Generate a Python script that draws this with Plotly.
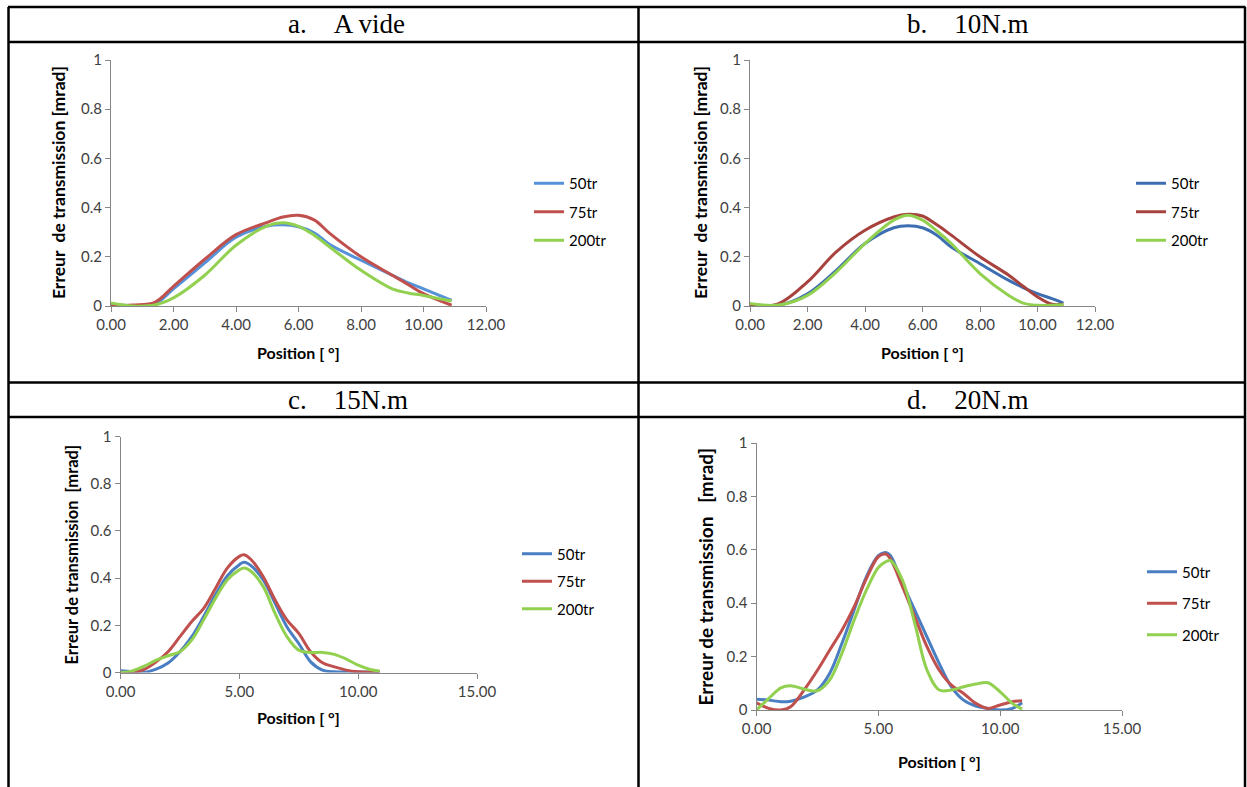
import plotly.graph_objects as go

W, H = 1247, 787

# ---------------- data ----------------
series_names = ["50tr", "75tr", "200tr"]
panel_titles = ["a.\u00a0\u00a0\u00a0\u00a0A vide", "b.\u00a0\u00a0\u00a0\u00a010N.m",
                "c.\u00a0\u00a0\u00a0\u00a015N.m", "d.\u00a0\u00a0\u00a0\u00a020N.m"]
x_title = "Position [ °]"
y_titles = ["Erreur\u00a0\u00a0de transmission [mrad]", "Erreur\u00a0\u00a0de transmission [mrad]",
            "Erreur de transmission\u00a0\u00a0[mrad]", "Erreur de transmission\u00a0\u00a0\u00a0[mrad]"]

a_x = [0, 0.7, 1.4, 2, 3, 4, 5, 5.5, 6, 6.5, 7, 8, 9, 9.5, 10, 10.9]
a_50 = [0.005, 0.002, 0.008, 0.07, 0.175, 0.28, 0.325, 0.33, 0.322, 0.298, 0.25, 0.186, 0.125, 0.095, 0.07, 0.023]
a_75 = [0.0, 0.004, 0.015, 0.08, 0.19, 0.29, 0.34, 0.362, 0.369, 0.35, 0.295, 0.2, 0.125, 0.088, 0.05, 0.003]
a_200 = [0.012, 0.0, 0.004, 0.033, 0.125, 0.247, 0.326, 0.338, 0.324, 0.288, 0.24, 0.145, 0.07, 0.053, 0.043, 0.02]

b_x = [0, 1, 2, 3, 4, 5, 5.5, 6, 6.5, 7, 8, 9, 9.5, 10, 10.5, 10.9]
b_50 = [0.005, 0.003, 0.05, 0.145, 0.254, 0.318, 0.326, 0.318, 0.288, 0.24, 0.172, 0.104, 0.075, 0.05, 0.03, 0.012]
b_75 = [0.0, 0.01, 0.098, 0.22, 0.308, 0.362, 0.373, 0.366, 0.33, 0.288, 0.2, 0.125, 0.08, 0.037, 0.007, 0.007]
b_200 = [0.01, 0.004, 0.043, 0.138, 0.254, 0.349, 0.369, 0.349, 0.305, 0.254, 0.132, 0.043, 0.012, 0.003, 0.003, 0.005]

c_x = [0, 0.5, 1, 1.5, 2, 2.5, 3, 3.5, 4, 4.5, 5, 5.2, 5.5, 6, 6.5, 7, 7.5, 8, 8.5, 9, 9.5, 10, 10.5, 10.9]
c_50 = [0.007, 0.003, 0.0, 0.014, 0.04, 0.088, 0.152, 0.237, 0.33, 0.41, 0.457, 0.467, 0.452, 0.393, 0.294,
        0.194, 0.123, 0.045, 0.01, 0.003, 0.002, 0.002, 0.002, 0.003]
c_75 = [0.0, 0.0, 0.013, 0.045, 0.088, 0.152, 0.216, 0.272, 0.357, 0.443, 0.492, 0.499, 0.478, 0.407, 0.308,
        0.223, 0.166, 0.088, 0.041, 0.024, 0.01, 0.003, 0.001, 0.0]
c_200 = [0.0, 0.007, 0.027, 0.052, 0.071, 0.088, 0.138, 0.223, 0.315, 0.393, 0.435, 0.443, 0.428, 0.365, 0.251,
         0.152, 0.095, 0.085, 0.085, 0.077, 0.057, 0.031, 0.013, 0.006]

d_x = [0, 0.5, 1, 1.4, 2, 2.5, 3, 3.5, 4, 4.5, 5, 5.3, 5.5, 6, 6.5, 7, 7.5, 8, 8.5, 9, 9.5, 10, 10.5, 10.9]
d_50 = [0.04, 0.037, 0.031, 0.033, 0.05, 0.075, 0.137, 0.248, 0.373, 0.497, 0.578, 0.59, 0.578, 0.472, 0.373,
        0.273, 0.174, 0.087, 0.037, 0.015, 0.006, 0.0, 0.006, 0.027]
d_75 = [0.027, 0.006, 0.0, 0.012, 0.081, 0.149, 0.224, 0.298, 0.385, 0.49, 0.574, 0.584, 0.565, 0.46, 0.348,
        0.236, 0.149, 0.093, 0.062, 0.025, 0.006, 0.019, 0.031, 0.035]
d_200 = [0.0, 0.043, 0.083, 0.091, 0.077, 0.072, 0.112, 0.211, 0.335, 0.447, 0.534, 0.555, 0.559, 0.484, 0.323,
         0.149, 0.075, 0.075, 0.087, 0.097, 0.102, 0.068, 0.025, 0.003]

x_ranges = [[0, 12], [0, 12], [0, 15], [0, 15]]
x_dticks = [2, 2, 5, 5]

# ---------------- styling / layout ----------------
colors = [
    ["#5592DA", "#C0504D", "#92D050"],
    ["#3D6EB2", "#A8423E", "#92D050"],
    ["#4A7EC2", "#C0504D", "#92D050"],
    ["#4A7EC2", "#C0504D", "#92D050"],
]
# plot areas in pixels: (left, right, top, bottom)
areas = [(111, 486, 60, 306), (750, 1095, 60, 306), (120.5, 477, 436.5, 672.5), (756.5, 1122, 443, 710)]
legend_pos = [(529, 212), (1131, 212), (517, 581.5), (1142, 603.5)]
legend_gap = [6, 6, 5, 9]
title_pos = [(346, 24), (968, 24), (348, 400), (968, 400)]
ytitle_x = [59, 701, 71, 705]
ytitle_size = [17.5, 17.5, 16.5, 19]
xtitle_y = [352, 352, 717, 761]

panels = [(a_x, [a_50, a_75, a_200]), (b_x, [b_50, b_75, b_200]),
          (c_x, [c_50, c_75, c_200]), (d_x, [d_50, d_75, d_200])]

fig = go.Figure()
SANS = "Lato, 'Open Sans', sans-serif"
TICKFONT = dict(family=SANS, size=15, color="#404040")

def px_x(p):
    return p / W

def px_y(p):
    return 1 - p / H

annotations = []
layout_upd = {}
for i, (xs, ys_list) in enumerate(panels):
    n = "" if i == 0 else str(i + 1)
    leg = "legend" if i == 0 else f"legend{i + 1}"
    for j, ys in enumerate(ys_list):
        fig.add_trace(go.Scatter(
            x=xs, y=ys, mode="lines", name=series_names[j],
            line=dict(color=colors[i][j], width=3, shape="spline", smoothing=1.0),
            xaxis="x" + n, yaxis="y" + n, legend=leg, legendgroup=f"p{i}s{j}",
            hoverinfo="skip"))
    l, r, t, b = areas[i]
    layout_upd["xaxis" + n] = dict(
        domain=[px_x(l), px_x(r)], range=x_ranges[i], anchor="y" + n, automargin=False,
        dtick=x_dticks[i], tick0=0, tickformat=".2f", showgrid=False, zeroline=False,
        showline=True, linecolor="#868686", linewidth=1, ticks="outside", ticklen=5,
        tickcolor="#868686", tickfont=TICKFONT, fixedrange=True)
    layout_upd["yaxis" + n] = dict(
        domain=[px_y(b), px_y(t)], range=[0, 1], anchor="x" + n, automargin=False,
        dtick=0.2, tick0=0, showgrid=False, zeroline=False,
        showline=True, linecolor="#868686", linewidth=1, ticks="outside", ticklen=5,
        tickcolor="#868686", tickfont=TICKFONT, fixedrange=True)
    lx, ly = legend_pos[i]
    layout_upd[leg] = dict(
        x=px_x(lx), y=px_y(ly), xanchor="left", yanchor="middle",
        bgcolor="rgba(0,0,0,0)", borderwidth=0, tracegroupgap=legend_gap[i],
        font=dict(family=SANS, size=15, color="#000000"),
        itemwidth=30)
    tx, ty = title_pos[i]
    annotations.append(dict(
        text=panel_titles[i], x=px_x(tx), y=px_y(ty), xref="paper", yref="paper",
        showarrow=False, xanchor="center", yanchor="middle",
        font=dict(family="'Liberation Serif', 'Times New Roman', serif", size=27, color="#000")))
    annotations.append(dict(
        text="<b>" + x_title + "</b>", x=px_x((l + r) / 2), y=px_y(xtitle_y[i]),
        xref="paper", yref="paper", showarrow=False, xanchor="center", yanchor="middle",
        font=dict(family=SANS, size=16, color="#000")))
    annotations.append(dict(
        text="<b>" + y_titles[i] + "</b>", x=px_x(ytitle_x[i]), y=px_y((t + b) / 2),
        xref="paper", yref="paper", showarrow=False, xanchor="center", yanchor="middle",
        textangle=-90, font=dict(family=SANS, size=ytitle_size[i], color="#000")))

# table borders
shapes = []
LW = 2.5
for yy in [7, 42, 382.5, 417]:
    shapes.append(dict(type="line", xref="paper", yref="paper",
                       x0=px_x(8), x1=px_x(1245.5), y0=px_y(yy), y1=px_y(yy),
                       line=dict(color="#000", width=LW)))
for xx in [8.5, 638.5, 1245]:
    shapes.append(dict(type="line", xref="paper", yref="paper",
                       x0=px_x(xx), x1=px_x(xx), y0=px_y(7), y1=0,
                       line=dict(color="#000", width=LW)))

fig.update_layout(
    width=W, height=H, margin=dict(l=0, r=0, t=0, b=0, pad=0, autoexpand=False),
    paper_bgcolor="white", plot_bgcolor="white",
    showlegend=True, annotations=annotations, shapes=shapes,
    **layout_upd)

fig.write_html("out.html", include_plotlyjs=True, config={"displayModeBar": False},
               post_script="document.body.style.margin='0';document.body.style.overflow='hidden';")
